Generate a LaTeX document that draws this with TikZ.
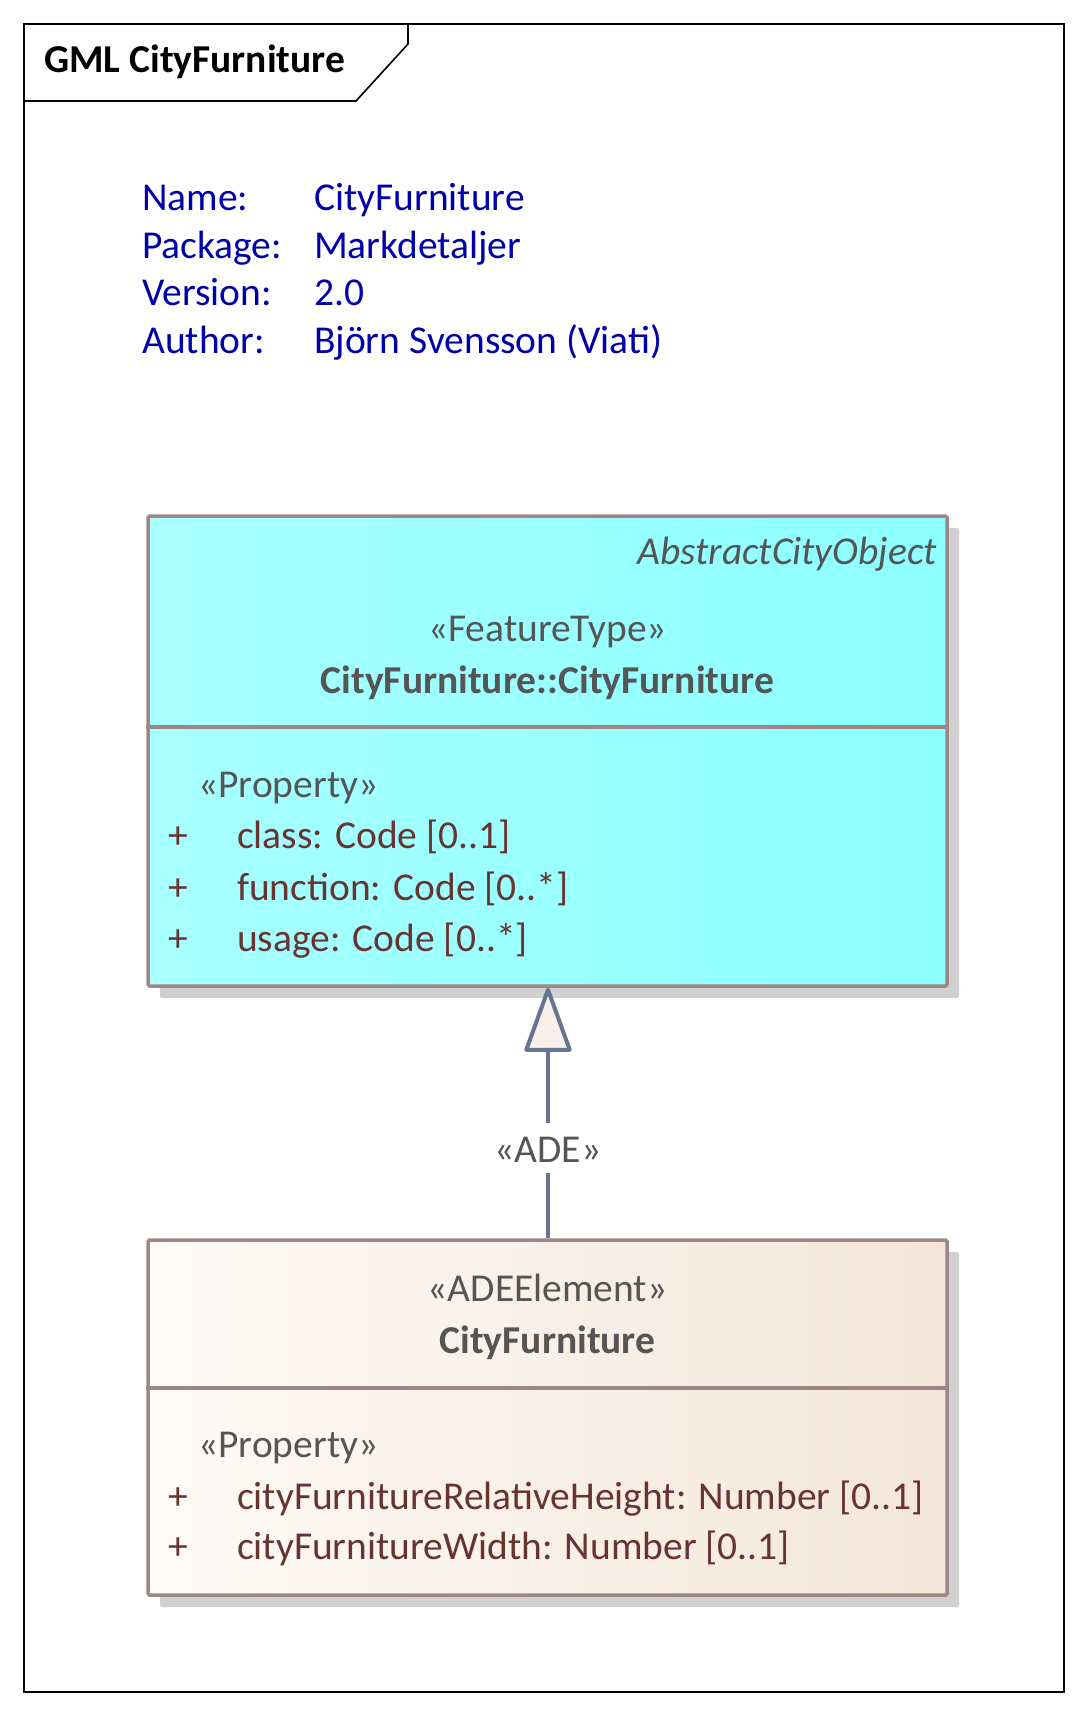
\documentclass[tikz,border=0pt]{standalone}
\usepackage{fontspec}
\setmainfont{Carlito}
\usetikzlibrary{arrows.meta, shadows}

\definecolor{notetext}{RGB}{0,0,170}
\definecolor{umlgray}{RGB}{85,85,85}
\definecolor{attrbrown}{RGB}{104,52,48}
\definecolor{boxborder}{RGB}{158,134,134}
\definecolor{shadowgray}{RGB}{208,208,208}
\definecolor{featleft}{RGB}{168,255,255}
\definecolor{featright}{RGB}{140,255,255}
\definecolor{adeleft}{RGB}{253,250,247}
\definecolor{aderight}{RGB}{243,230,217}
\definecolor{connline}{RGB}{104,117,144}
\definecolor{trifill}{RGB}{249,240,235}

\newcommand{\umlfont}{\fontsize{39.5}{48}\selectfont}

\begin{document}
\begin{tikzpicture}[x=1pt, y=-1pt,
    every node/.style={inner sep=0pt, font=\umlfont},
    note/.style={anchor=base west, text=notetext},
    classbox/.style={draw=boxborder, line width=3.5pt, rounded corners=1.5pt, minimum width=799pt,
      drop shadow={shadow xshift=12pt, shadow yshift=-12pt, fill=shadowgray, opacity=1}},
    stereo/.style={anchor=base, text=umlgray},
    attr/.style={anchor=base west, text=attrbrown},
    divider/.style={draw=boxborder, line width=3.5pt}]
  \useasboundingbox (0,0) rectangle (1088,1716);

  % frame and tab
  \draw[line width=1.6pt] (24,24) rectangle (1064,1692);
  \draw[line width=1.6pt] (24,101) -- (356,101) -- (408,44) -- (408,24);
  \node[anchor=base west, font=\umlfont\bfseries] (title) at (44,72) {GML CityFurniture};

  % notes
  \node[note] (namekey) at (142,210) {Name:};
  \node[note] (nameval) at (314,210) {CityFurniture};
  \node[note] (pkgkey) at (142,258) {Package:};
  \node[note] (pkgval) at (314,258) {Markdetaljer};
  \node[note] (verkey) at (142,305) {Version:};
  \node[note] (verval) at (314,305) {2.0};
  \node[note] (authkey) at (142,353) {Author:};
  \node[note] (authval) at (314,353) {Björn Svensson (Viati)};

  % feature type class
  \node[classbox, minimum height=470pt, left color=featleft, right color=featright] (feat) at (547.5,751) {};
  \coordinate (featdiv) at (547.5,727);
  \draw[divider] (feat.west |- featdiv) -- (feat.east |- featdiv);
  \node[anchor=base east, text=umlgray, font=\umlfont\itshape] (featabs) at (937,564) {AbstractCityObject};
  \node[stereo] (featster) at (547.5,641) {«FeatureType»};
  \node[stereo, font=\umlfont\bfseries] (featname) at (547.5,693) {CityFurniture::CityFurniture};
  \node[anchor=base west, text=umlgray] (featprop) at (198,797) {«Property»};
  \node[attr] (featvisa) at (168,848) {+};
  \node[attr] (featattra) at (237,848) {class: Code [0..1]};
  \node[attr] (featvisb) at (168,900) {+};
  \node[attr] (featattrb) at (237,900) {function: Code [0..*]};
  \node[attr] (featvisc) at (168,951) {+};
  \node[attr] (featattrc) at (237,951) {usage: Code [0..*]};

  % ADE element class
  \node[classbox, minimum height=355pt, left color=adeleft, right color=aderight] (ade) at (547.5,1417.5) {};
  \coordinate (adediv) at (547.5,1388);
  \draw[divider] (ade.west |- adediv) -- (ade.east |- adediv);
  \node[stereo] (adester) at (547.5,1301) {«ADEElement»};
  \node[stereo, font=\umlfont\bfseries] (adename) at (547.5,1353) {CityFurniture};
  \node[anchor=base west, text=umlgray] (adeprop) at (198,1457) {«Property»};
  \node[attr] (adevisa) at (168,1509) {+};
  \node[attr] (adeattra) at (237,1509) {cityFurnitureRelativeHeight: Number [0..1]};
  \node[attr] (adevisb) at (168,1559) {+};
  \node[attr] (adeattrb) at (237,1559) {cityFurnitureWidth: Number [0..1]};

  % generalization
  \node[stereo, text height=39pt, text depth=11pt] (adelbl) at (548,1162) {«ADE»};
  \draw[draw=connline, line width=4pt] (ade.north -| adelbl) -- (adelbl.south);
  \draw[draw=connline, line width=4pt, line join=round,
    -{Triangle[width=48pt, length=68pt, fill=trifill, round]}] (adelbl.north) -- (feat.south -| adelbl);
\end{tikzpicture}
\end{document}
